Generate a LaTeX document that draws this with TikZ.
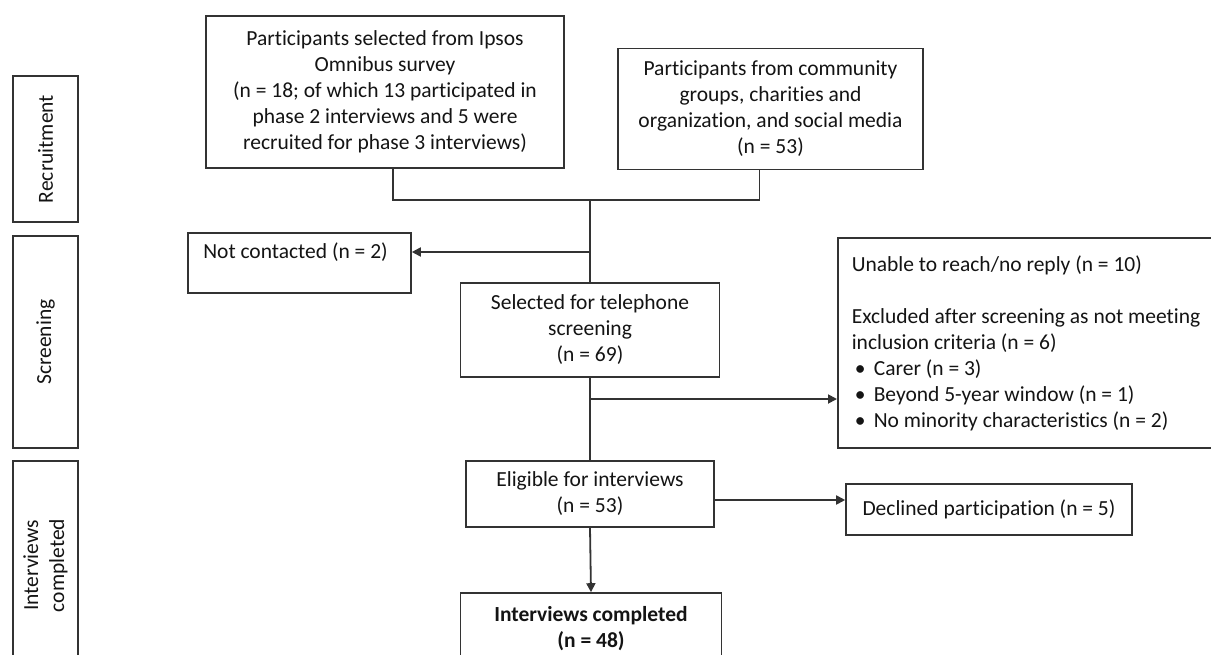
\documentclass[tikz,border=0pt]{standalone}
\usepackage{fontspec}
\setmainfont[Ligatures=NoCommon]{Carlito}
\usetikzlibrary{arrows.meta,calc}
\definecolor{lc}{rgb}{0.2,0.2,0.2}
\begin{document}
\begin{tikzpicture}[x=1pt,y=-1pt,
  every node/.style={font=\fontsize{21.5}{26}\selectfont, text=black!92},
  box/.style={draw=lc, line width=1.6pt, rectangle, inner sep=0pt, align=center},
  conn/.style={draw=lc, line width=1.8pt},
  arr/.style={conn, -{Triangle[length=9pt,width=9pt]}},
]
\useasboundingbox (0,0) rectangle (1211,654);
\fill[white] (0,0) rectangle (1211,654);

% side stage labels
\node[box, rotate=90, minimum width=146pt, minimum height=65pt] (rec) at (45.5,149) {Recruitment};
\node[box, rotate=90, minimum width=212pt, minimum height=65pt] (scr) at (45.5,342) {Screening};
\node[box, rotate=90, minimum width=209pt, minimum height=65pt] (int) at (45.5,565.5) {Interviews\\completed};

% main boxes
\node[box, minimum width=358pt, minimum height=152pt] (b1) at (385,92)
  {Participants selected from Ipsos\\Omnibus survey\\(n = 18; of which 13 participated in\\phase 2 interviews and 5 were\\recruited for phase 3 interviews)};
\node[box, minimum width=305pt, minimum height=121pt] (b2) at (770.5,109)
  {Participants from community\\groups, charities and\\organization, and social media\\(n = 53)};
\node[box, minimum width=223pt, minimum height=60pt] (nc) at (299.5,263) {};
\node[inner sep=0pt] (nctext) at (295.5,252) {Not contacted (n = 2)};
\node[box, minimum width=259pt, minimum height=94pt] (b3) at (590,330)
  {Selected for telephone\\screening\\(n = 69)};
\node[box, anchor=west, align=flush left, text width=380pt, inner xsep=14pt, minimum height=210pt] (ub) at (837,343)
  {Unable to reach/no reply (n = 10)\\[26pt]
   Excluded after screening as not meeting\\
   inclusion criteria (n = 6)\\
   \hspace*{3pt}\makebox[19pt][l]{•}Carer (n = 3)\\
   \hspace*{3pt}\makebox[19pt][l]{•}Beyond 5-year window (n = 1)\\
   \hspace*{3pt}\makebox[19pt][l]{•}No minority characteristics (n = 2)};
\node[box, minimum width=248pt, minimum height=66pt] (b4) at (590,494)
  {Eligible for interviews\\(n = 53)};
\node[box, minimum width=286pt, minimum height=51pt] (dec) at (989,509.5)
  {Declined participation (n = 5)};
\node[box, minimum width=261pt, minimum height=72pt] (b5) at (591,629)
  {\textbf{Interviews completed}\\\textbf{(n = 48)}};

% connectors
\coordinate (jn) at (590,200);
\coordinate (c1) at (590,252);
\coordinate (c2) at (590,399);
\coordinate (c3) at (713,500);
\draw[conn] ([xshift=8pt]b1.south) |- (jn) -| ([xshift=-11pt]b2.south);
\draw[conn] (jn) -- (b3.north);
\draw[arr] (c1) -- (c1 -| nc.east);
\draw[conn] (b3.south) -- (b4.north);
\draw[arr] (c2) -- (c2 -| ub.west);
\draw[arr] (c3 -| b4.east) -- (c3 -| dec.west);
\draw[arr] (b4.south) -- (b5.north);
\end{tikzpicture}
\end{document}
